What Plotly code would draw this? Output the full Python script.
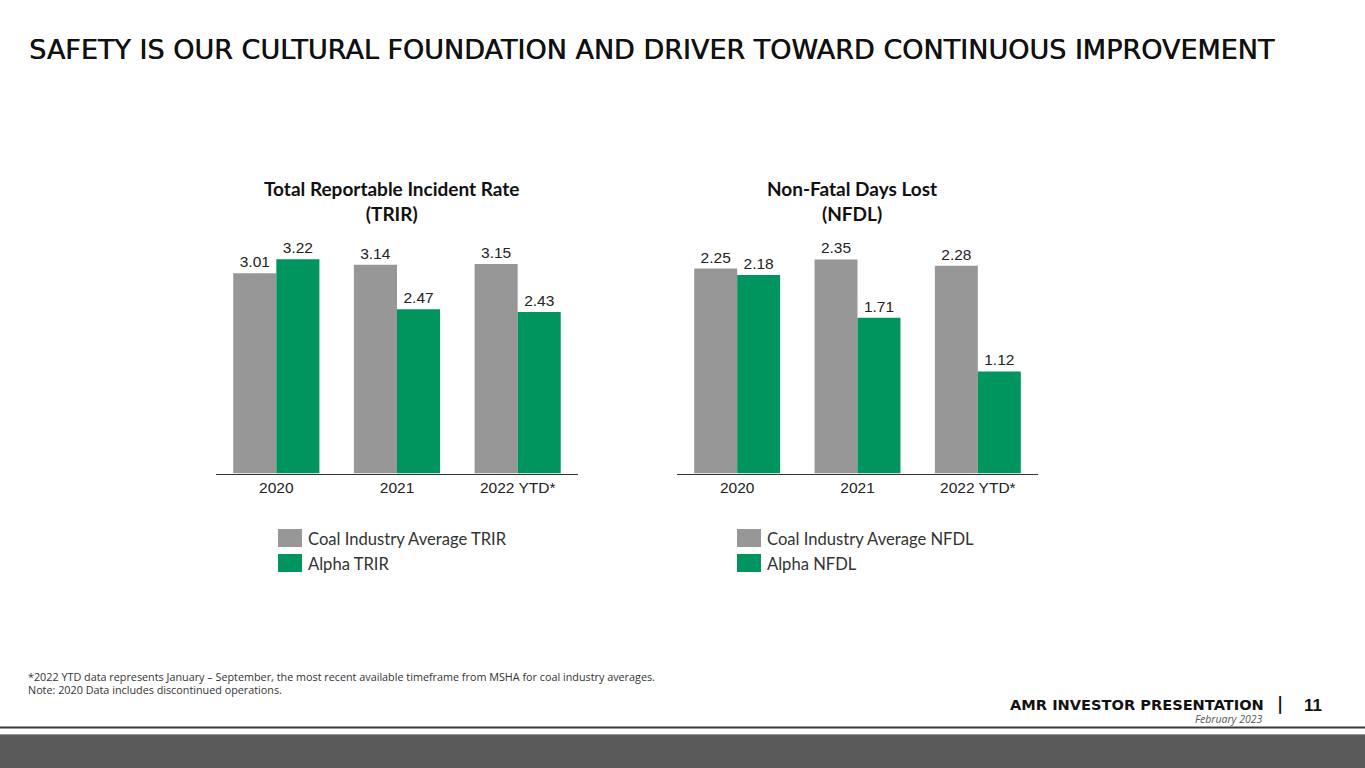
import plotly.graph_objects as go

# ---- data ----
categories = ["2020", "2021", "2022 YTD*"]
trir_industry = [3.01, 3.14, 3.15]
trir_alpha = [3.22, 2.47, 2.43]
nfdl_industry = [2.25, 2.35, 2.28]
nfdl_alpha = [2.18, 1.71, 1.12]
trir_names = ["Coal Industry Average TRIR", "Alpha TRIR"]
nfdl_names = ["Coal Industry Average NFDL", "Alpha NFDL"]
chart_titles = ["Total Reportable Incident Rate<br>(TRIR)", "Non-Fatal Days Lost<br>(NFDL)"]
main_title = "SAFETY IS OUR CULTURAL FOUNDATION AND DRIVER TOWARD CONTINUOUS IMPROVEMENT"
footnotes = ["*2022 YTD data represents January \u2013 September, the most recent available timeframe from MSHA for coal industry averages.",
             "Note: 2020 Data includes discontinued operations."]

W, H = 1365, 768
GRAY = "#979797"
GREEN = "#00955F"
TXT = "#222222"


def px(x):
    return x / W


def py(y):
    return 1 - y / H


fig = go.Figure()
label_font = dict(family="Liberation Sans, Arial", size=15.5, color=TXT)

for vals, name, color, xa, ya in [
    (trir_industry, trir_names[0], GRAY, "x", "y"),
    (trir_alpha, trir_names[1], GREEN, "x", "y"),
    (nfdl_industry, nfdl_names[0], GRAY, "x2", "y2"),
    (nfdl_alpha, nfdl_names[1], GREEN, "x2", "y2"),
]:
    fig.add_trace(go.Bar(
        x=categories, y=vals, name=name, marker=dict(color=color, line=dict(width=0)),
        text=[f"{v:.2f}" for v in vals], textposition="outside", textfont=label_font,
        cliponaxis=False, xaxis=xa, yaxis=ya, showlegend=False, hoverinfo="skip",
    ))

ydom = [py(473.5), py(233)]
axis_common = dict(showgrid=False, zeroline=False, showline=True, linecolor="#333333", linewidth=1,
                   ticks="", tickfont=dict(family="Liberation Sans, Arial", size=15.5, color=TXT),
                   fixedrange=True)
yaxis_common = dict(showgrid=False, zeroline=False, showline=False, showticklabels=False,
                    ticks="", fixedrange=True)

fig.update_layout(
    width=W, height=H, margin=dict(l=0, r=0, t=0, b=0),
    paper_bgcolor="white", plot_bgcolor="white",
    barmode="group", bargap=0.286, bargroupgap=0,
    xaxis=dict(domain=[px(216), px(578)], anchor="y", **axis_common),
    xaxis2=dict(domain=[px(677), px(1038)], anchor="y2", **axis_common),
    yaxis=dict(domain=ydom, range=[0, 240.5 / 66.5], anchor="x", **yaxis_common),
    yaxis2=dict(domain=ydom, range=[0, 240.5 / 91.1], anchor="x2", **yaxis_common),
    showlegend=False,
)

ann = []
shapes = []

# main title
ann.append(dict(text=main_title, x=px(27), y=py(49), xref="paper", yref="paper",
                xanchor="left", yanchor="middle", showarrow=False,
                font=dict(family="DejaVu Sans", size=27, color="#111111",
                          shadow="0.5px 0 0 #111111")))

# chart titles
for t, cx in zip(chart_titles, [392, 852]):
    ann.append(dict(text="<b>" + t + "</b>", x=px(cx), y=py(201), xref="paper", yref="paper",
                    xanchor="center", yanchor="middle", showarrow=False,
                    font=dict(family="Lato", size=19, color="#111111")))

# legends
leg_font = dict(family="Lato", size=16.6, color="#333333")
for names, lx in [(trir_names, 278), (nfdl_names, 737)]:
    for i, (nm, col) in enumerate(zip(names, [GRAY, GREEN])):
        y0 = 529 + i * 25
        shapes.append(dict(type="rect", xref="paper", yref="paper",
                           x0=px(lx), x1=px(lx + 24), y0=py(y0), y1=py(y0 + 18),
                           fillcolor=col, line=dict(width=0)))
        ann.append(dict(text=nm, x=px(lx + 28), y=py(y0 + 9.5), xref="paper", yref="paper",
                        xanchor="left", yanchor="middle", showarrow=False, font=leg_font))

# footnotes
for i, f in enumerate(footnotes):
    ann.append(dict(text=f, x=px(26), y=py(676 + i * 13), xref="paper", yref="paper",
                    xanchor="left", yanchor="middle", showarrow=False,
                    font=dict(family="Open Sans", size=10.8, color="#333333")))

# footer branding
ann.append(dict(text="<b>AMR INVESTOR PRESENTATION</b>", x=px(1266), y=py(704), xref="paper", yref="paper",
                xanchor="right", yanchor="middle", showarrow=False,
                font=dict(family="DejaVu Sans", size=14.6, color="#111111")))
ann.append(dict(text="<b>|</b>", x=px(1280), y=py(704), xref="paper", yref="paper",
                xanchor="center", yanchor="middle", showarrow=False,
                font=dict(family="DejaVu Sans", size=17, color="#111111")))
ann.append(dict(text="<b>11</b>", x=px(1313), y=py(705), xref="paper", yref="paper",
                xanchor="center", yanchor="middle", showarrow=False,
                font=dict(family="Liberation Sans, Arial", size=17, color="#111111")))
ann.append(dict(text="<i>February 2023</i>", x=px(1265), y=py(719), xref="paper", yref="paper",
                xanchor="right", yanchor="middle", showarrow=False,
                font=dict(family="Open Sans", size=10.5, color="#555555")))

# bottom rule and coal band
shapes.append(dict(type="line", xref="paper", yref="paper", x0=0, x1=1, y0=py(727.5), y1=py(727.5),
                   line=dict(color="#3a3a3a", width=2)))
shapes.append(dict(type="line", xref="paper", yref="paper", x0=0, x1=1, y0=py(734.5), y1=py(734.5),
                   line=dict(color="#9a9a9a", width=1)))
shapes.append(dict(type="rect", xref="paper", yref="paper", x0=0, x1=1, y0=py(735), y1=0,
                   fillcolor="#5a5a5a", line=dict(width=0)))

fig.update_layout(annotations=ann, shapes=shapes)

fig.write_html("out.html", config={"displayModeBar": False},
               post_script="document.body.style.margin='0';")
